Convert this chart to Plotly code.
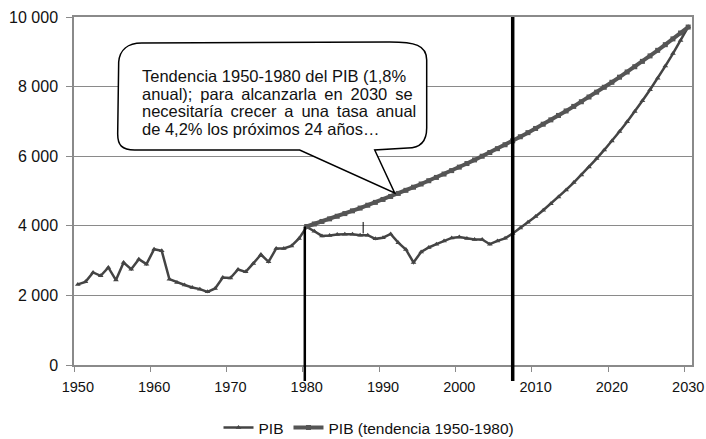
import plotly.graph_objects as go

# --- DADOS ---
anos_pib = list(range(1950, 2031))
pib = [
    2315, 2390, 2660, 2562, 2803, 2439, 2946, 2754, 3041, 2898,   # 1950-1959
    3328, 3280, 2467, 2373, 2300, 2229, 2180, 2103, 2200, 2516,   # 1960-1969
    2500, 2746, 2677, 2918, 3176, 2964, 3348, 3348, 3423, 3635,   # 1970-1979
    3970, 3844, 3710, 3720, 3750, 3758, 3758, 3730, 3730, 3625,   # 1980-1989
    3658, 3765, 3515, 3320, 2946, 3250, 3377, 3471, 3566, 3652,   # 1990-1999
    3681, 3635, 3606, 3606, 3471, 3566, 3640, 3780, 3935, 4100,   # 2000-2009
    4270, 4447, 4633, 4828, 5031, 5242, 5462, 5692, 5931, 6180,   # 2010-2019
    6439, 6710, 6992, 7285, 7591, 7910, 8242, 8589, 8949, 9325,   # 2020-2029
    9717,                                                         # 2030
]

anos_tendencia = list(range(1980, 2031))
tendencia = [
    3980, 4052, 4125, 4199, 4274, 4351, 4430, 4509, 4591, 4673,   # 1980-1989
    4757, 4843, 4930, 5019, 5109, 5201, 5295, 5390, 5487, 5586,   # 1990-1999
    5686, 5789, 5893, 5999, 6107, 6217, 6329, 6443, 6559, 6677,   # 2000-2009
    6797, 6919, 7044, 7171, 7300, 7431, 7565, 7701, 7840, 7981,   # 2010-2019
    8124, 8271, 8420, 8571, 8725, 8882, 9042, 9205, 9371, 9540,   # 2020-2029
    9711,                                                         # 2030
]

ticks_x = [1950, 1960, 1970, 1980, 1990, 2000, 2010, 2020, 2030]
ticks_y = [0, 2000, 4000, 6000, 8000, 10000]

# texto do balão, linha a linha (espaços finos para imitar o justificado)
linhas_globo = [
    "Tendencia 1950-1980 del PIB (1,8%",
    "anual);\u2009 para\u2009 alcanzarla\u2009 en\u2009 2030\u2009 se",
    "necesitaría\u2009 crecer\u2009 a\u2009 una\u2009 tasa\u2009 anual",
    "de 4,2% los próximos 24 años…",
]

# --- GEOMETRIA ---
# posições na página (pixels); a margem do <body> é zerada no html
LARG, ALT = 706, 439
ESQ, DIR, TOPO, BASE = 74.3, 692.3, 17.0, 365.0


def px(x):
    return (x - ESQ) / (DIR - ESQ)


def py(y):
    return (BASE - y) / (BASE - TOPO)


def pt(x, y):
    return f"{px(x):.4f},{py(y):.4f}"


# contorno do balão (retângulo arredondado com ponteiro)
caminho_globo = (
    f"M {pt(142, 43)} "
    f"L {pt(390, 42)} "
    f"C {pt(415, 42)} {pt(427, 45)} {pt(427, 60)} "
    f"L {pt(427, 128)} "
    f"C {pt(427, 142)} {pt(420, 148)} {pt(408, 148)} "
    f"L {pt(375, 150)} "
    f"L {pt(395, 193)} "
    f"L {pt(300, 150)} "
    f"L {pt(135, 150)} "
    f"C {pt(122, 150)} {pt(118, 145)} {pt(118, 134)} "
    f"L {pt(119, 62)} "
    f"C {pt(120, 50)} {pt(128, 43)} {pt(142, 43)} Z"
)

# --- GRÁFICO ---
fig = go.Figure()

fig.add_trace(go.Scatter(
    x=anos_pib, y=pib, name="PIB", mode="lines+markers",
    line=dict(color="#444444", width=2.5),
    marker=dict(symbol="triangle-up", size=5, color="#444444"),
))

fig.add_trace(go.Scatter(
    x=anos_tendencia, y=tendencia, name="PIB (tendencia 1950-1980)", mode="lines+markers",
    line=dict(color="#555555", width=4),
    marker=dict(symbol="square", size=5, color="#555555"),
))

# linhas verticais 1980 e 2007
fig.add_shape(type="line", xref="x", yref="paper", x0=1979.75, x1=1979.75,
              y0=py(381), y1=py(226.5), line=dict(color="black", width=2.5), layer="above")
fig.add_shape(type="line", xref="x", yref="paper", x0=2007, x1=2007,
              y0=py(381), y1=1, line=dict(color="black", width=3.5), layer="above")
# pequeno traço perto de 1987
fig.add_shape(type="line", xref="x", yref="y", x0=1987.4, x1=1987.4,
              y0=3780, y1=4110, line=dict(color="black", width=1), layer="above")

# balão
fig.add_shape(type="path", xref="paper", yref="paper", path=caminho_globo,
              fillcolor="white", line=dict(color="black", width=1.5), layer="above")

centros_linhas = [76.0, 93.5, 111.0, 128.5]
for linha, yc in zip(linhas_globo, centros_linhas):
    fig.add_annotation(
        xref="paper", yref="paper", x=px(141), y=py(yc), xanchor="left", yanchor="middle",
        text=linha, align="left", showarrow=False, borderpad=0,
        font=dict(family="Liberation Sans, Arial", size=16.5, color="#111111"),
    )

fig.update_layout(
    width=LARG, height=ALT,
    margin=dict(l=ESQ, r=LARG - DIR, t=TOPO, b=ALT - BASE),
    paper_bgcolor="white", plot_bgcolor="white",
    font=dict(family="Liberation Sans, Arial", size=16, color="#111111"),
    separators=", ",
    legend=dict(orientation="h", x=369 / LARG, xanchor="center", xref="container",
                y=1 - 428 / ALT, yanchor="middle", yref="container",
                font=dict(size=15.5), itemwidth=30, tracegroupgap=0),
    showlegend=True,
)

fig.update_xaxes(
    range=[1949.5, 2030.5], tickvals=ticks_x, ticks="", showgrid=False,
    showline=True, linecolor="#8a8a8a", linewidth=1.5, mirror=True,
    minor=dict(tickvals=[t - 0.5 for t in ticks_x], ticks="outside", ticklen=5,
               tickcolor="#8a8a8a", showgrid=False),
    tickfont=dict(size=14.5),
    zeroline=False, automargin=False, ticklabelstandoff=8, ticklabeloverflow="allow",
)

fig.update_yaxes(
    range=[0, 10000], tickvals=ticks_y, tickformat=",d",
    ticks="outside", ticklen=6, tickcolor="#8a8a8a",
    showgrid=True, gridcolor="#8a8a8a", gridwidth=1,
    showline=True, linecolor="#8a8a8a", linewidth=1.5, mirror=True,
    zeroline=False, automargin=False, ticklabelstandoff=5, ticklabeloverflow="allow",
)

# zera a margem padrão do <body> para a figura ocupar a janela inteira
fig.write_html("out.html", config={"displayModeBar": False},
               post_script="document.body.style.margin = '0px';")
